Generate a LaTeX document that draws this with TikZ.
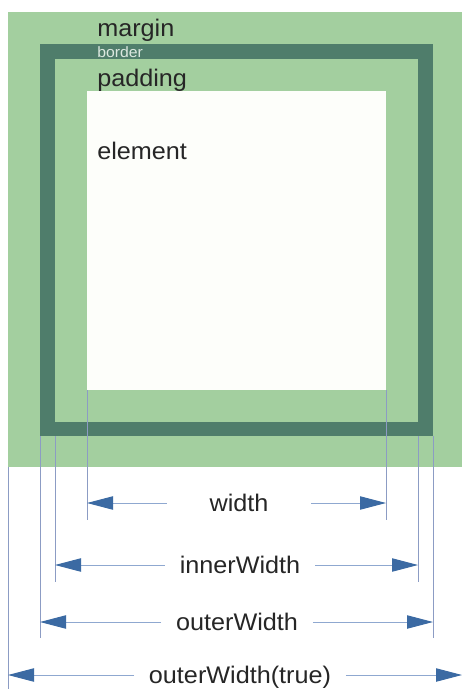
\documentclass[tikz,border=0pt]{standalone}
\usepackage{fontspec}
\setmainfont{Liberation Sans}[FakeStretch=1.05]
\usetikzlibrary{arrows.meta,calc}
\definecolor{margingreen}{RGB}{163,207,159}
\definecolor{borderteal}{RGB}{79,125,107}
\definecolor{elemwhite}{RGB}{253,254,250}
\definecolor{bordertext}{RGB}{220,232,224}
\definecolor{guideblue}{RGB}{140,156,196}
\definecolor{dimline}{RGB}{143,168,208}
\definecolor{dimhead}{RGB}{59,106,163}
\tikzset{
  box/.style={anchor=north west, inner sep=0pt, outer sep=0pt},
  boxlabel/.style={anchor=base west, inner sep=0pt, text=black!85, font=\fontsize{18}{20}\selectfont},
  guide/.style={draw=guideblue, line width=0.6pt},
  dimarrow/.style={draw=dimline, line width=0.75pt, -{Triangle[length=19.5pt,width=10pt,color=dimhead]}},
  dimlabel/.style={font=\fontsize{18}{20}\selectfont, text=black!85, text height=13pt, text depth=0pt, inner ysep=0pt, inner xsep=11pt}
}

\begin{document}
\begin{tikzpicture}[x=0.75pt, y=-0.75pt]
\useasboundingbox (0,0) rectangle (462,689);
\fill[white] (0,0) rectangle (462,689);
% the boxes
\node[box, fill=margingreen, minimum width=340.5pt, minimum height=341.25pt] (margin) at (8,12) {};
\node[box, fill=borderteal, minimum width=294.75pt, minimum height=294pt] (border) at (40,44) {};
\node[box, fill=margingreen, minimum width=272.25pt, minimum height=272.25pt] (padding) at (55,59) {};
\node[box, fill=elemwhite, minimum width=224.25pt, minimum height=224.25pt] (element) at (87,91) {};
\node[boxlabel] (tmargin) at (97,36) {margin};
\node[boxlabel, font=\fontsize{11.25}{12}\selectfont, text=bordertext] (tborder) at (97,57) {border};
\node[boxlabel] (tpadding) at (97,86) {padding};
\node[boxlabel] (telement) at (97,159) {element};
% guide lines
\coordinate (wl) at (87,520);
\coordinate (wr) at (386,520);
\coordinate (il) at (55,582);
\coordinate (ir) at (418,582);
\coordinate (ol) at (40,638);
\coordinate (or) at (433,638);
\coordinate (tl) at (8,689);
\coordinate (tr) at (462,689);
\draw[guide] (element.south west) -- (wl);
\draw[guide] (element.south east) -- (wr);
\draw[guide] (padding.south west |- border.south) -- (il);
\draw[guide] (padding.south east |- border.south) -- (ir);
\draw[guide] (border.south west) -- (ol);
\draw[guide] (border.south east) -- (or);
\draw[guide] (margin.south west) -- (tl);
% dimensions
\node[dimlabel, minimum width=108pt] (lwidth) at (239,503) {width};
\node[dimlabel] (linner) at (240,565) {innerWidth};
\node[dimlabel] (louter) at (237,622) {outerWidth};
\node[dimlabel] (ltrue) at (240,675) {outerWidth(true)};
\draw[dimarrow] (lwidth.west) -- (lwidth.west -| wl);
\draw[dimarrow] (lwidth.east) -- (lwidth.east -| wr);
\draw[dimarrow] (linner.west) -- (linner.west -| il);
\draw[dimarrow] (linner.east) -- (linner.east -| ir);
\draw[dimarrow] (louter.west) -- (louter.west -| ol);
\draw[dimarrow] (louter.east) -- (louter.east -| or);
\draw[dimarrow] (ltrue.west) -- (ltrue.west -| tl);
\draw[dimarrow] (ltrue.east) -- (ltrue.east -| tr);
\end{tikzpicture}
\end{document}
